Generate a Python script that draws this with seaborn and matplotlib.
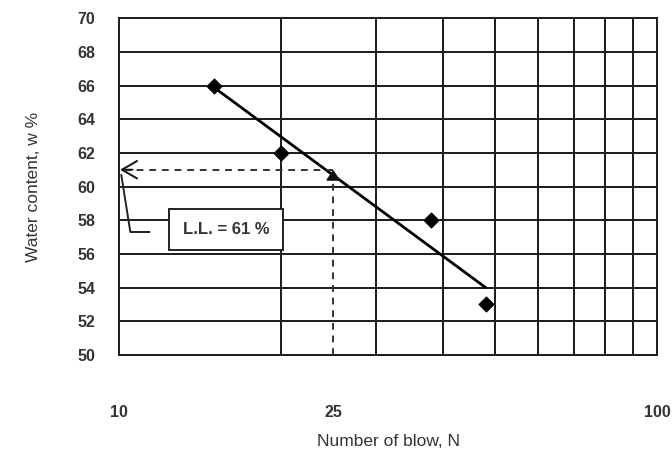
import matplotlib
matplotlib.use("Agg")
import matplotlib.pyplot as plt
import seaborn as sns
import pandas as pd
from matplotlib.ticker import FixedLocator, NullLocator, NullFormatter

# ---- data ----
blows = [15, 20, 38, 48]
water = [66.0, 62.0, 58.0, 53.0]
fit_blows = [15, 48]
fit_water = [65.9, 54.0]
ll_blows = 25
ll_water = 61
y_ticks = [50, 52, 54, 56, 58, 60, 62, 64, 66, 68, 70]
x_ticks = [10, 25, 100]
x_grid = [20, 30, 40, 50, 60, 70, 80, 90]
ll_label = "L.L. = 61 %"

sns.set_style("white")
plt.rcParams["font.family"] = ["Liberation Sans", "DejaVu Sans"]

fig = plt.figure(figsize=(6.72, 4.55), dpi=100)
ax = fig.add_axes([0.177, 0.22, 0.801, 0.74])

pts = pd.DataFrame({"N": blows, "w": water})
fit = pd.DataFrame({"N": fit_blows, "w": fit_water})

sns.lineplot(data=fit, x="N", y="w", color="black", linewidth=2.0, ax=ax, zorder=4)
sns.scatterplot(data=pts, x="N", y="w", marker="D", s=60, color="black",
                edgecolor="black", ax=ax, zorder=5)

ax.set_xscale("log")
ax.set_xlim(10, 100)
ax.set_ylim(50, 70)

# grid
for g in x_grid:
    ax.axvline(g, color="#1a1a1a", linewidth=1.4, zorder=1)
for t in y_ticks[1:-1]:
    ax.axhline(t, color="#1a1a1a", linewidth=1.4, zorder=1)

for sp in ax.spines.values():
    sp.set_color("#1a1a1a")
    sp.set_linewidth(1.4)

ax.xaxis.set_major_locator(FixedLocator(x_ticks))
ax.xaxis.set_minor_locator(NullLocator())
ax.xaxis.set_minor_formatter(NullFormatter())
ax.set_xticklabels([str(v) for v in x_ticks])
ax.set_yticks(y_ticks)
ax.set_yticklabels([str(v) for v in y_ticks])
ax.tick_params(axis="x", length=0, pad=36, labelsize=11.5, labelcolor="#333333")
ax.tick_params(axis="y", length=0, pad=17, labelsize=11.5, labelcolor="#333333")
for lbl in ax.get_xticklabels() + ax.get_yticklabels():
    lbl.set_fontweight("bold")

ax.set_xlabel("Number of blow, N", fontsize=12.5, color="#333333", labelpad=10)
ax.set_ylabel("Water content, w %", fontsize=12.5, color="#333333", labelpad=26)

# liquid limit construction lines (dashed), arrowheads solid
dash = (0, (3.5, 3))
ax.plot([ll_blows, ll_blows], [50, ll_water - 0.4], color="#333333", lw=1.4,
        linestyle=dash, zorder=6)
ax.plot([ll_blows, 10.3], [ll_water, ll_water], color="#333333", lw=1.4,
        linestyle=dash, zorder=6)
ax.annotate("", xy=(ll_blows, ll_water), xytext=(ll_blows, ll_water - 0.5),
            arrowprops=dict(arrowstyle="-|>,head_length=0.45,head_width=0.3",
                            color="#111111", lw=1.2, mutation_scale=14,
                            shrinkA=0, shrinkB=0), zorder=7)
ax.annotate("", xy=(10.05, ll_water), xytext=(10.6, ll_water),
            arrowprops=dict(arrowstyle="->,head_length=0.6,head_width=0.35",
                            color="#111111", lw=1.4, mutation_scale=18,
                            shrinkA=0, shrinkB=0), zorder=7)

# callout leader and label box
ax.plot([10.1, 10.5, 11.4], [60.7, 57.3, 57.3], color="#222222", linewidth=1.4,
        zorder=6, clip_on=False)
ax.text(15.8, 57.45, ll_label, ha="center", va="center", fontsize=12,
        fontweight="bold", color="#333333", zorder=7,
        bbox=dict(boxstyle="square,pad=0.8", facecolor="white",
                  edgecolor="#222222", linewidth=1.4))

fig.savefig("out.png", dpi=100)
